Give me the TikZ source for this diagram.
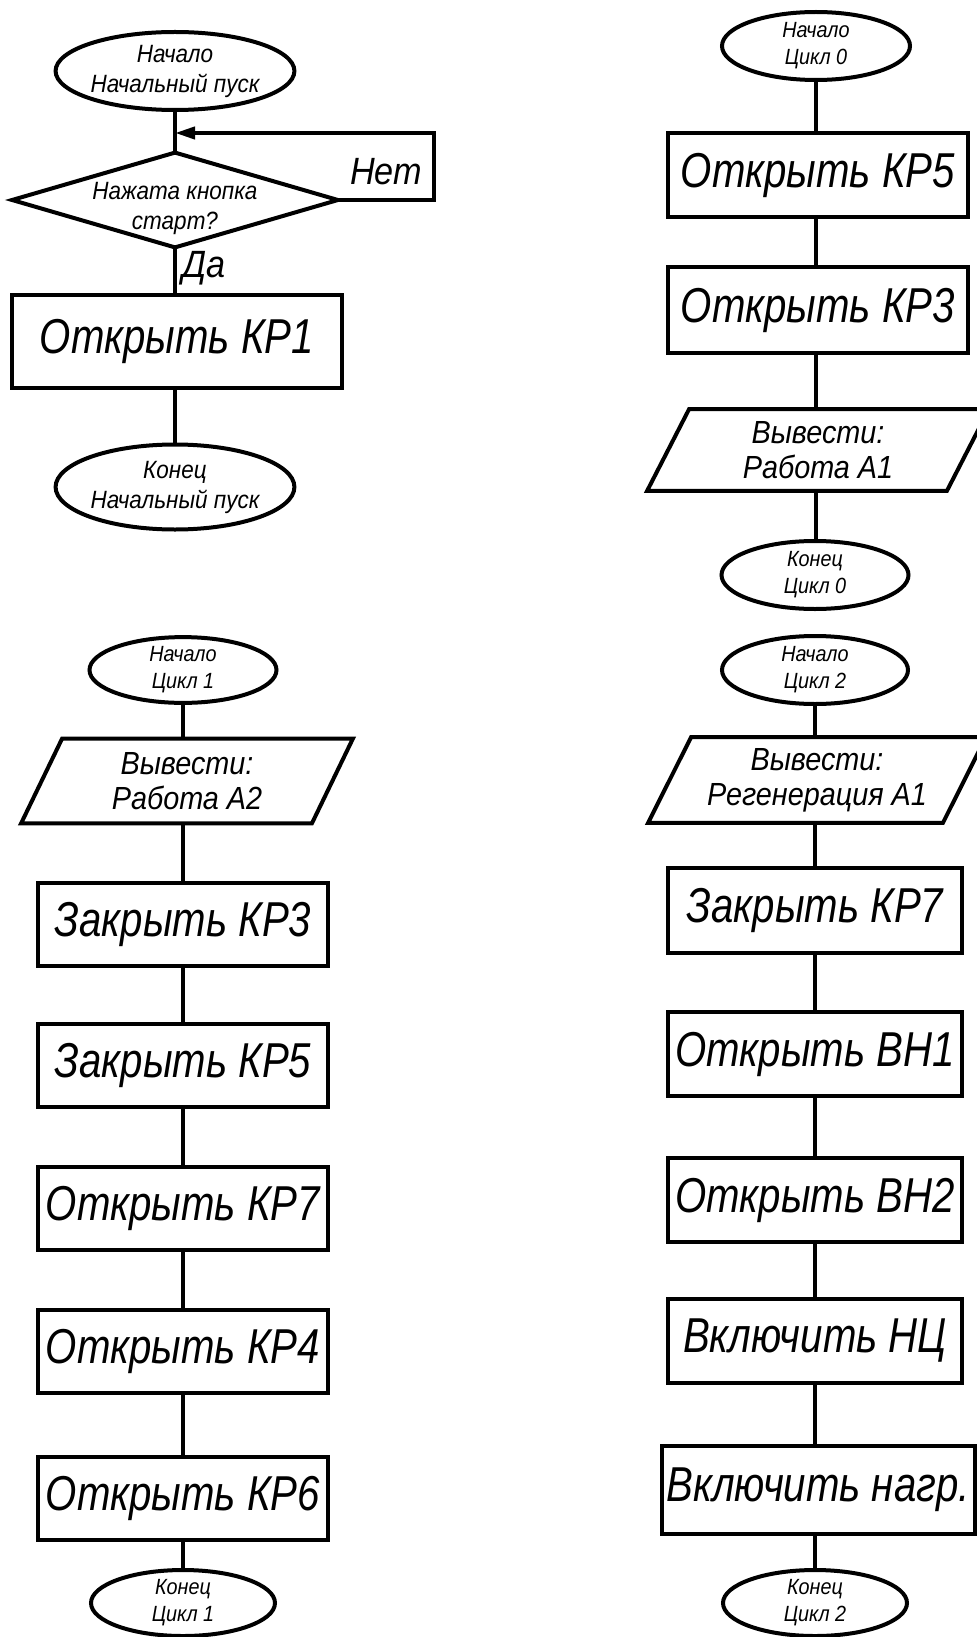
\documentclass[tikz,border=0pt]{standalone}
\usepackage{fontspec}
\setmainfont{Liberation Sans}[FakeStretch=0.9]
\newfontfamily\bigfam{Liberation Sans}[FakeStretch=0.82]
\usetikzlibrary{shapes.geometric,arrows.meta,calc}
\newcommand\fBig{\bigfam\fontsize{24.5}{28}\selectfont\itshape}
\newcommand\fMid{\fontsize{16}{17.5}\selectfont\itshape}
\newcommand\fSml{\fontsize{12.5}{15}\selectfont\itshape}
\newcommand\fTny{\fontsize{11}{13.5}\selectfont\itshape}
\newcommand\fLbl{\fontsize{19}{22}\selectfont\itshape}
\begin{document}
\begin{tikzpicture}[x=0.5pt,y=-0.5pt,
  ln/.style={line width=2pt},
  sz/.style 2 args={minimum width=#1*0.5pt, minimum height=#2*0.5pt},
  box/.style={draw, rectangle, line width=2pt, inner sep=0pt, font=\fBig},
  term/.style={draw, ellipse, line width=2pt, inner sep=0pt, align=center},
  para/.style={rectangle, inner sep=0pt, align=center, font=\fMid},
  lbl/.style={inner sep=0pt, font=\fLbl}]
\useasboundingbox (0,0) rectangle (977,1637);
\fill[white] (0,0) rectangle (977,1637);
\clip (0,0) rectangle (977,1637);

% ---------- top-left: start-up ----------
\node[term, sz={205}{78}, font=\fSml] (s0) at (175,71) {Начало\\Начальный пуск};
\node[rectangle, sz={325}{94}, inner sep=0pt] (d0) at (175,200) {};
\node[inner sep=0pt, align=center, font=\fSml] (d0t) at (175,208) {Нажата кнопка\\старт?};
\draw[ln] (d0.north) -- (d0.east) -- (d0.south) -- (d0.west) -- cycle;
\coordinate (j0) at (175,133);
\node[box, sz={330}{93}] (b0) at (177,341) {Открыть КР1};
\node[term, sz={204}{85}, font=\fSml] (e0) at (175,487) {Конец\\Начальный пуск};
\node[lbl] (net) at (386,172) {Нет};
\node[lbl] (da) at (204,268) {Да};
\draw[ln] (s0.south) -- (d0.north);
\draw[ln, -{Triangle[length=10pt,width=6pt]}] (d0.east) -- ++(96,0) |- (j0);
\draw[ln] (d0.south) -- (d0.south |- b0.north);
\draw[ln] (e0.north |- b0.south) -- (e0.north);

% ---------- left: cycle 1 ----------
\node[term, sz={187}{65}, font=\fTny] (s1) at (183,670) {Начало\\Цикл 1};
\node[para, sz={331}{84}] (p1) at (187,781) {Вывести:\\Работа А2};
\draw[ln] ($(p1.north west)+(41,0)$) -- (p1.north east) -- ($(p1.south east)-(41,0)$) -- (p1.south west) -- cycle;
\node[box, sz={290}{83}] (c1) at (183,924) {Закрыть КР3};
\node[box, sz={290}{83}] (c2) at (183,1065) {Закрыть КР5};
\node[box, sz={290}{83}] (c3) at (183,1208) {Открыть КР7};
\node[box, sz={290}{83}] (c4) at (183,1351) {Открыть КР4};
\node[box, sz={290}{83}] (c5) at (183,1498) {Открыть КР6};
\node[term, sz={184}{66}, font=\fTny] (e1) at (183,1603) {Конец\\Цикл 1};
\draw[ln] (s1.south) -- (s1.south |- p1.north);
\draw[ln] (s1.south |- p1.south) -- (c1.north);
\draw[ln] (c1.south) -- (c2.north);
\draw[ln] (c2.south) -- (c3.north);
\draw[ln] (c3.south) -- (c4.north);
\draw[ln] (c4.south) -- (c5.north);
\draw[ln] (c5.south) -- (e1.north);

% ---------- right: cycle 0 ----------
\node[term, sz={188}{68}, font=\fTny] (s2) at (816,46) {Начало\\Цикл 0};
\node[box, sz={300}{84}] (r1) at (818,175) {Открыть КР5};
\node[box, sz={300}{86}] (r2) at (818,310) {Открыть КР3};
\node[para, sz={341}{81}] (p2) at (818,450) {Вывести:\\Работа А1};
\draw[ln] ($(p2.north west)+(42,0)$) -- (p2.north east) -- ($(p2.south east)-(42,0)$) -- (p2.south west) -- cycle;
\node[term, sz={187}{68}, font=\fTny] (e2) at (815,575) {Конец\\Цикл 0};
\draw[ln] (s2.south) -- (s2.south |- r1.north);
\draw[ln] (s2.south |- r1.south) -- (s2.south |- r2.north);
\draw[ln] (s2.south |- r2.south) -- (s2.south |- p2.north);
\draw[ln] (s2.south |- p2.south) -- (s2.south |- e2.north);

% ---------- right: cycle 2 ----------
\node[term, sz={186}{68}, font=\fTny] (s3) at (815,670) {Начало\\Цикл 2};
\node[para, sz={337}{85}] (p3) at (817,780) {Вывести:\\Регенерация А1};
\draw[ln] ($(p3.north west)+(43,0)$) -- (p3.north east) -- ($(p3.south east)-(43,0)$) -- (p3.south west) -- cycle;
\node[box, sz={294}{85}] (r3) at (815,910) {Закрыть КР7};
\node[box, sz={294}{84}] (r4) at (815,1054) {Открыть ВН1};
\node[box, sz={294}{84}] (r5) at (815,1200) {Открыть ВН2};
\node[box, sz={294}{84}] (r6) at (815,1341) {Включить НЦ};
\node[box, sz={313}{88}] (r7) at (818,1490) {Включить нагр.};
\node[term, sz={184}{66}, font=\fTny] (e3) at (815,1603) {Конец\\Цикл 2};
\draw[ln] (s3.south) -- (s3.south |- p3.north);
\draw[ln] (s3.south |- p3.south) -- (r3.north);
\draw[ln] (r3.south) -- (r4.north);
\draw[ln] (r4.south) -- (r5.north);
\draw[ln] (r5.south) -- (r6.north);
\draw[ln] (r6.south) -- (r6.south |- r7.north);
\draw[ln] (r6.south |- r7.south) -- (e3.north);
\end{tikzpicture}
\end{document}
